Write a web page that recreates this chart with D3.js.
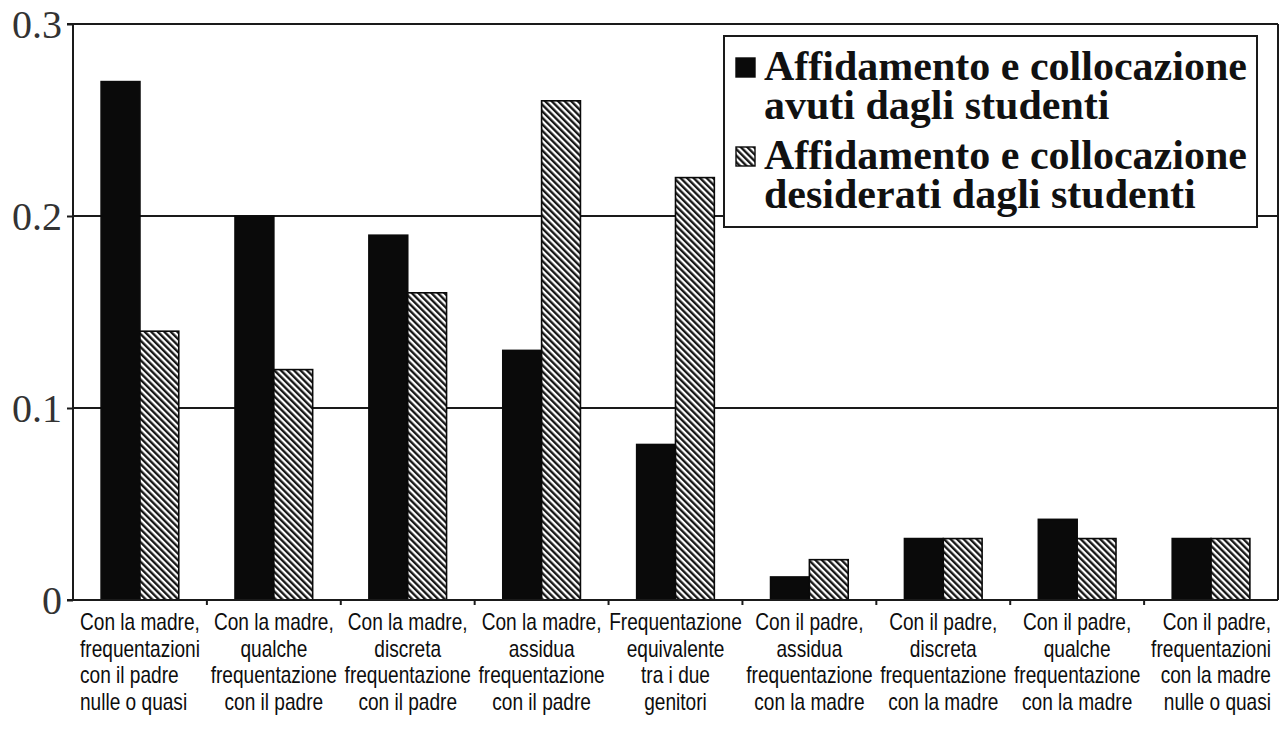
<!DOCTYPE html>
<html>
<head>
<meta charset="utf-8">
<script src="https://cdn.jsdelivr.net/npm/d3@7"></script>
<style>
  html, body { margin: 0; padding: 0; background: #fff; }
  svg { display: block; }
</style>
</head>
<body>
<svg id="chart" width="1284" height="733"></svg>
<script>
// ---- data ----
const categories = [
  "Con la madre,\nfrequentazioni\ncon il padre\nnulle o quasi",
  "Con la madre,\nqualche\nfrequentazione\ncon il padre",
  "Con la madre,\ndiscreta\nfrequentazione\ncon il padre",
  "Con la madre,\nassidua\nfrequentazione\ncon il padre",
  "Frequentazione\nequivalente\ntra i due\ngenitori",
  "Con il padre,\nassidua\nfrequentazione\ncon la madre",
  "Con il padre,\ndiscreta\nfrequentazione\ncon la madre",
  "Con il padre,\nqualche\nfrequentazione\ncon la madre",
  "Con il padre,\nfrequentazioni\ncon la madre\nnulle o quasi"
];
const seriesNames = [
  "Affidamento e collocazione\navuti dagli studenti",
  "Affidamento e collocazione\ndesiderati dagli studenti"
];
const avuti      = [0.27, 0.20, 0.19, 0.13, 0.081, 0.012, 0.032, 0.042, 0.032];
const desiderati = [0.14, 0.12, 0.16, 0.26, 0.22, 0.021, 0.032, 0.032, 0.032];
const yTicks = [0, 0.1, 0.2, 0.3];
const yTickLabels = ["0", "0.1", "0.2", "0.3"];

// ---- layout ----
const svg = d3.select("#chart");
const mLeft = 73, mRight = 1278, mTop = 24, mBottom = 600;

const defs = svg.append("defs");
const pat = defs.append("pattern")
  .attr("id", "hatch")
  .attr("patternUnits", "userSpaceOnUse")
  .attr("width", 4.6).attr("height", 10)
  .attr("patternTransform", "rotate(-45)");
pat.append("rect").attr("width", 4.6).attr("height", 10).attr("fill", "#fff");
pat.append("line").attr("x1", 1.2).attr("x2", 1.2).attr("y1", 0).attr("y2", 10)
  .attr("stroke", "#111").attr("stroke-width", 2.3);

const x = d3.scaleBand().domain(d3.range(categories.length))
  .range([mLeft, mRight]).paddingInner(0.42).paddingOuter(0.21);
const xs = d3.scaleBand().domain([0, 1]).range([0, x.bandwidth()]).padding(0);
const y = d3.scaleLinear().domain([0, 0.3]).range([mBottom, mTop]);

// gridlines (0.1, 0.2) and top border
svg.append("g").selectAll("line").data(yTicks.filter(d => d > 0))
  .join("line")
  .attr("x1", d => d === 0.3 ? mLeft - 6 : mLeft).attr("x2", mRight)
  .attr("y1", d => y(d)).attr("y2", d => y(d))
  .attr("stroke", "#1a1a1a").attr("stroke-width", 2);

// right border
svg.append("line").attr("x1", mRight).attr("x2", mRight)
  .attr("y1", y(0.3)).attr("y2", mBottom)
  .attr("stroke", "#1a1a1a").attr("stroke-width", 2);

// bars
const seriesVals = [avuti, desiderati];
const barG = svg.append("g");
seriesVals.forEach((vals, s) => {
  barG.selectAll(null).data(vals).join("rect")
    .attr("x", (d, i) => x(i) + xs(s))
    .attr("width", xs.bandwidth())
    .attr("y", d => y(d))
    .attr("height", d => y(0) - y(d))
    .attr("fill", s === 0 ? "#0a0a0a" : "url(#hatch)")
    .attr("stroke", "#0a0a0a").attr("stroke-width", 1.6);
});

// y axis
const yAxis = d3.axisLeft(y).tickValues(yTicks).tickSize(6)
  .tickFormat((d, i) => yTickLabels[i]);
const yg = svg.append("g").attr("transform", `translate(${mLeft},0)`).call(yAxis);
yg.select(".domain").attr("stroke", "#1a1a1a").attr("stroke-width", 2)
  .attr("d", `M0,${y(0.3)}V${mBottom}`);
yg.selectAll(".tick line").attr("stroke", "#1a1a1a").attr("stroke-width", 2);
yg.selectAll(".tick text")
  .attr("x", -11).attr("dy", "0.33em")
  .attr("font-family", "'Liberation Serif', 'Times New Roman', serif")
  .attr("font-size", 40).attr("fill", "#333");

// x axis
const xAxis = d3.axisBottom(x).tickSize(0).tickFormat("");
const xg = svg.append("g").attr("transform", `translate(0,${mBottom})`).call(xAxis);
xg.select(".domain").attr("stroke", "#1a1a1a").attr("stroke-width", 2)
  .attr("d", `M${mLeft - 6},0H${mRight}`);
const step = x.step();
xg.append("g").selectAll("line").data(d3.range(1, categories.length))
  .join("line")
  .attr("x1", i => mLeft + i * step).attr("x2", i => mLeft + i * step)
  .attr("y1", 0).attr("y2", 5)
  .attr("stroke", "#1a1a1a").attr("stroke-width", 2);

// category labels
const sx = 0.83;
const lineH = 26.6;
categories.forEach((c, i) => {
  const cx = x(i) + x.bandwidth() / 2;
  const lines = c.split("\n");
  const g = svg.append("g").attr("transform", `translate(${cx},0) scale(${sx},1)`);
  const texts = g.selectAll("text").data(lines).join("text")
    .attr("y", (d, k) => 630 + k * lineH)
    .attr("font-family", "'Liberation Sans', Arial, sans-serif")
    .attr("font-size", 23).attr("fill", "#0d0d0d")
    .text(d => d);
  const maxW = d3.max(texts.nodes(), n => n.getComputedTextLength());
  if (i === 0) {
    texts.attr("text-anchor", "start").attr("x", -maxW / 2);
  } else if (i === categories.length - 1) {
    texts.attr("text-anchor", "end").attr("x", maxW / 2);
  } else {
    texts.attr("text-anchor", "middle").attr("x", 0);
  }
});

// legend
const lg = svg.append("g");
lg.append("rect").attr("x", 724).attr("y", 36).attr("width", 533).attr("height", 191)
  .attr("fill", "#fff").attr("stroke", "#1a1a1a").attr("stroke-width", 2);
const legendBase = [80, 169];
seriesNames.forEach((name, s) => {
  lg.append("rect")
    .attr("x", 736).attr("y", legendBase[s] - 22).attr("width", 19).attr("height", 19)
    .attr("fill", s === 0 ? "#0a0a0a" : "url(#hatch)")
    .attr("stroke", "#0a0a0a").attr("stroke-width", 1.4);
  lg.selectAll(null).data(name.split("\n")).join("text")
    .attr("x", 764).attr("y", (d, k) => legendBase[s] + k * 38.5)
    .attr("font-family", "'Liberation Serif', 'Times New Roman', serif")
    .attr("font-weight", "bold").attr("font-size", 42).attr("fill", "#111")
    .text(d => d);
});
</script>
</body>
</html>
